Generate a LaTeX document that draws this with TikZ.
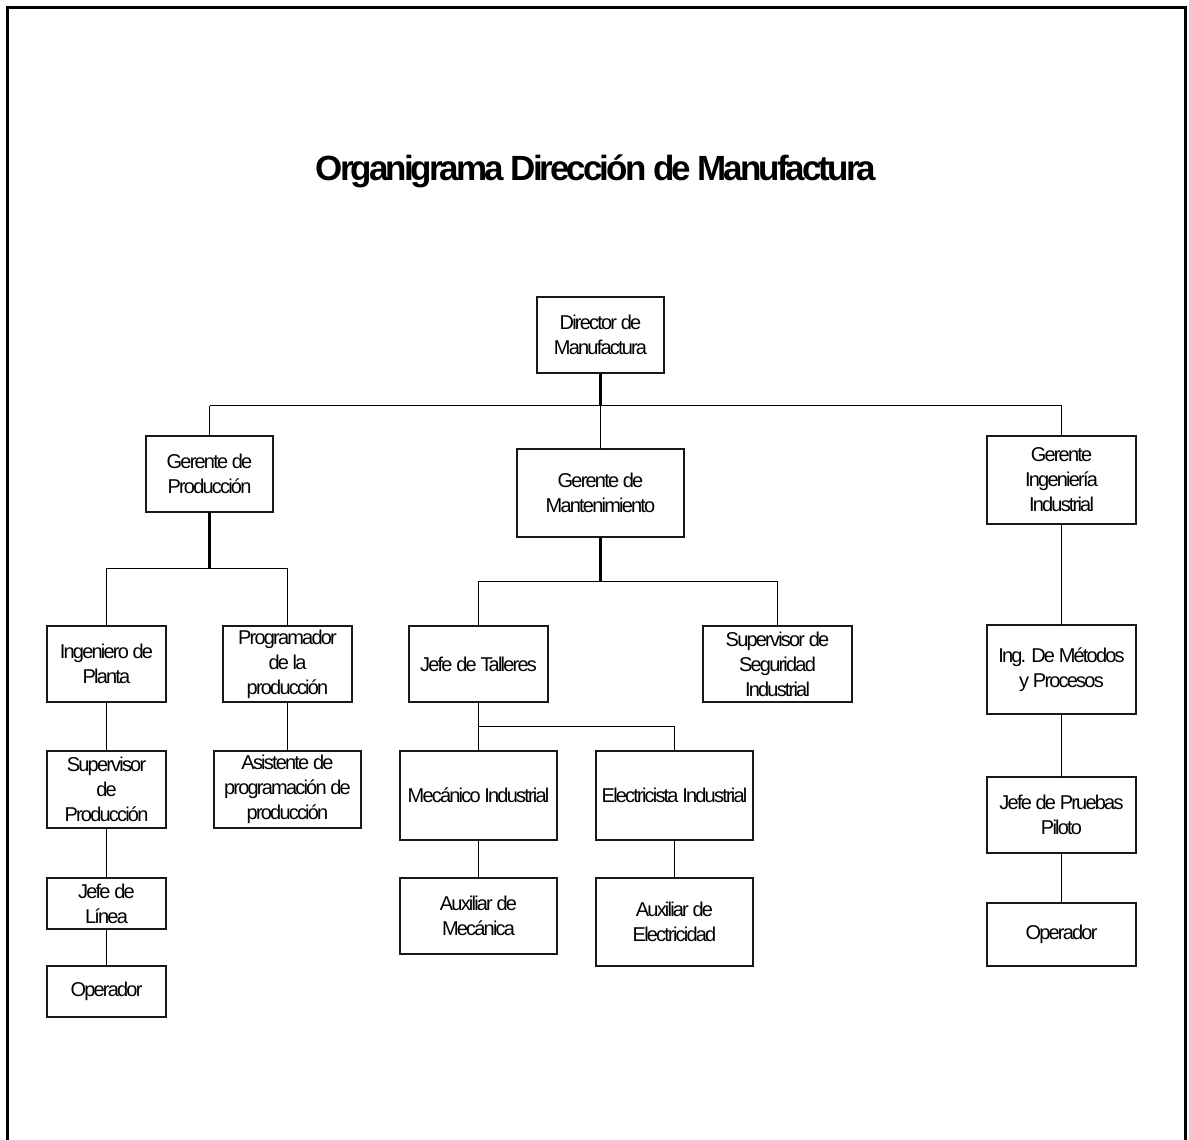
\documentclass[tikz,border=0pt]{standalone}
\usepackage{fontspec}
\setmainfont{Liberation Sans}
\newfontfamily\orgfont[LetterSpace=-9]{Liberation Sans}
\newfontfamily\ttlfont[LetterSpace=-8.5]{Liberation Sans}
\tikzset{
  orgbox/.style={draw=black!90, line width=1.5bp, inner sep=0pt, outer sep=0pt,
    align=center, font=\orgfont\fontsize{20bp}{25bp}\selectfont, text=black},
  conn/.style={draw=black, line width=1.5bp},
  thickc/.style={draw=black, line width=2.4bp},
  frame/.style={draw=black, line width=3bp}
}
\newcommand\orgnode[6]{\node[orgbox, minimum width={(#4-#2)*1.00375}, minimum height={(#5-#3)*1.00375}] (#1) at ({(#2+#4)/2},{(#3+#5)/2}) {#6};}
\begin{document}
\begin{tikzpicture}[x=1bp,y=-1bp]
\useasboundingbox (0,0) rectangle (1189,1140);
\fill[white] (0,0) rectangle (1189,1140);
\draw[frame] (7,1150) -- (7,7) -- (1185.5,7) -- (1185.5,1150);
\node[font=\ttlfont\bfseries\fontsize{35bp}{40bp}\selectfont, anchor=base] (title) at (596,180) {Organigrama Dirección de Manufactura};
% boxes
\orgnode{dir}{537}{297}{664}{373}{Director de\\Manufactura}
\orgnode{gp}{146}{436}{273}{512}{Gerente de\\Producción}
\orgnode{gm}{517}{449}{684}{537}{Gerente de\\Mantenimiento}
\orgnode{gi}{987}{436}{1136}{524}{Gerente\\Ingeniería\\Industrial}
\orgnode{ip}{47}{626}{166}{702}{Ingeniero de\\Planta}
\orgnode{pp}{223}{626}{352}{702}{Programador\\de la\\producción}
\orgnode{sp}{47}{751}{166}{828}{Supervisor\\de\\Producción}
\orgnode{ap}{214}{751}{361}{828}{Asistente de\\programación de\\producción}
\orgnode{jl}{47}{878}{166}{929}{Jefe de\\Línea}
\orgnode{opa}{47}{966}{166}{1017}{Operador}
\orgnode{jt}{409}{626}{548}{702}{Jefe de Talleres}
\orgnode{ss}{703}{626}{852}{702}{Supervisor de\\Seguridad\\Industrial}
\orgnode{mi}{400}{751}{557}{840}{Mecánico Industrial}
\orgnode{ei}{596}{751}{753}{840}{Electricista Industrial}
\orgnode{am}{400}{878}{557}{954}{Auxiliar de\\Mecánica}
\orgnode{ae}{596}{878}{753}{966}{Auxiliar de\\Electricidad}
\orgnode{im}{987}{625}{1136}{714}{Ing. De Métodos\\y Procesos}
\orgnode{jp}{987}{777}{1136}{853}{Jefe de Pruebas\\Piloto}
\orgnode{opb}{987}{903}{1136}{966}{Operador}
% bus levels
\coordinate (ya) at (0,405.5);
\coordinate (yb) at (0,568.5);
\coordinate (yc) at (0,581.5);
\coordinate (yd) at (0,726.5);
% connectors
\draw[conn] (gp.north |- ya) -- (gi.north |- ya);
\draw[thickc] (dir.south) -- (dir.south |- ya);
\draw[conn] (dir.south |- ya) -- (gm.north);
\draw[conn] (gp.north |- ya) -- (gp.north);
\draw[conn] (gi.north |- ya) -- (gi.north);
\draw[thickc] (gp.south) -- (gp.south |- yb);
\draw[conn] (ip.north) |- (pp.north |- yb) -- (pp.north);
\draw[conn] (ip.south) -- (sp.north);
\draw[conn] (sp.south) -- (jl.north);
\draw[conn] (jl.south) -- (opa.north);
\draw[conn] (pp.south) -- (ap.north);
\draw[thickc] (gm.south) -- (gm.south |- yc);
\draw[conn] (jt.north) |- (ss.north |- yc) -- (ss.north);
\draw[conn] (jt.south) -- (jt.south |- yd);
\draw[conn] (mi.north) |- (ei.north |- yd) -- (ei.north);
\draw[conn] (mi.south) -- (am.north);
\draw[conn] (ei.south) -- (ae.north);
\draw[conn] (gi.south) -- (im.north);
\draw[conn] (im.south) -- (jp.north);
\draw[conn] (jp.south) -- (opb.north);
\end{tikzpicture}
\end{document}
